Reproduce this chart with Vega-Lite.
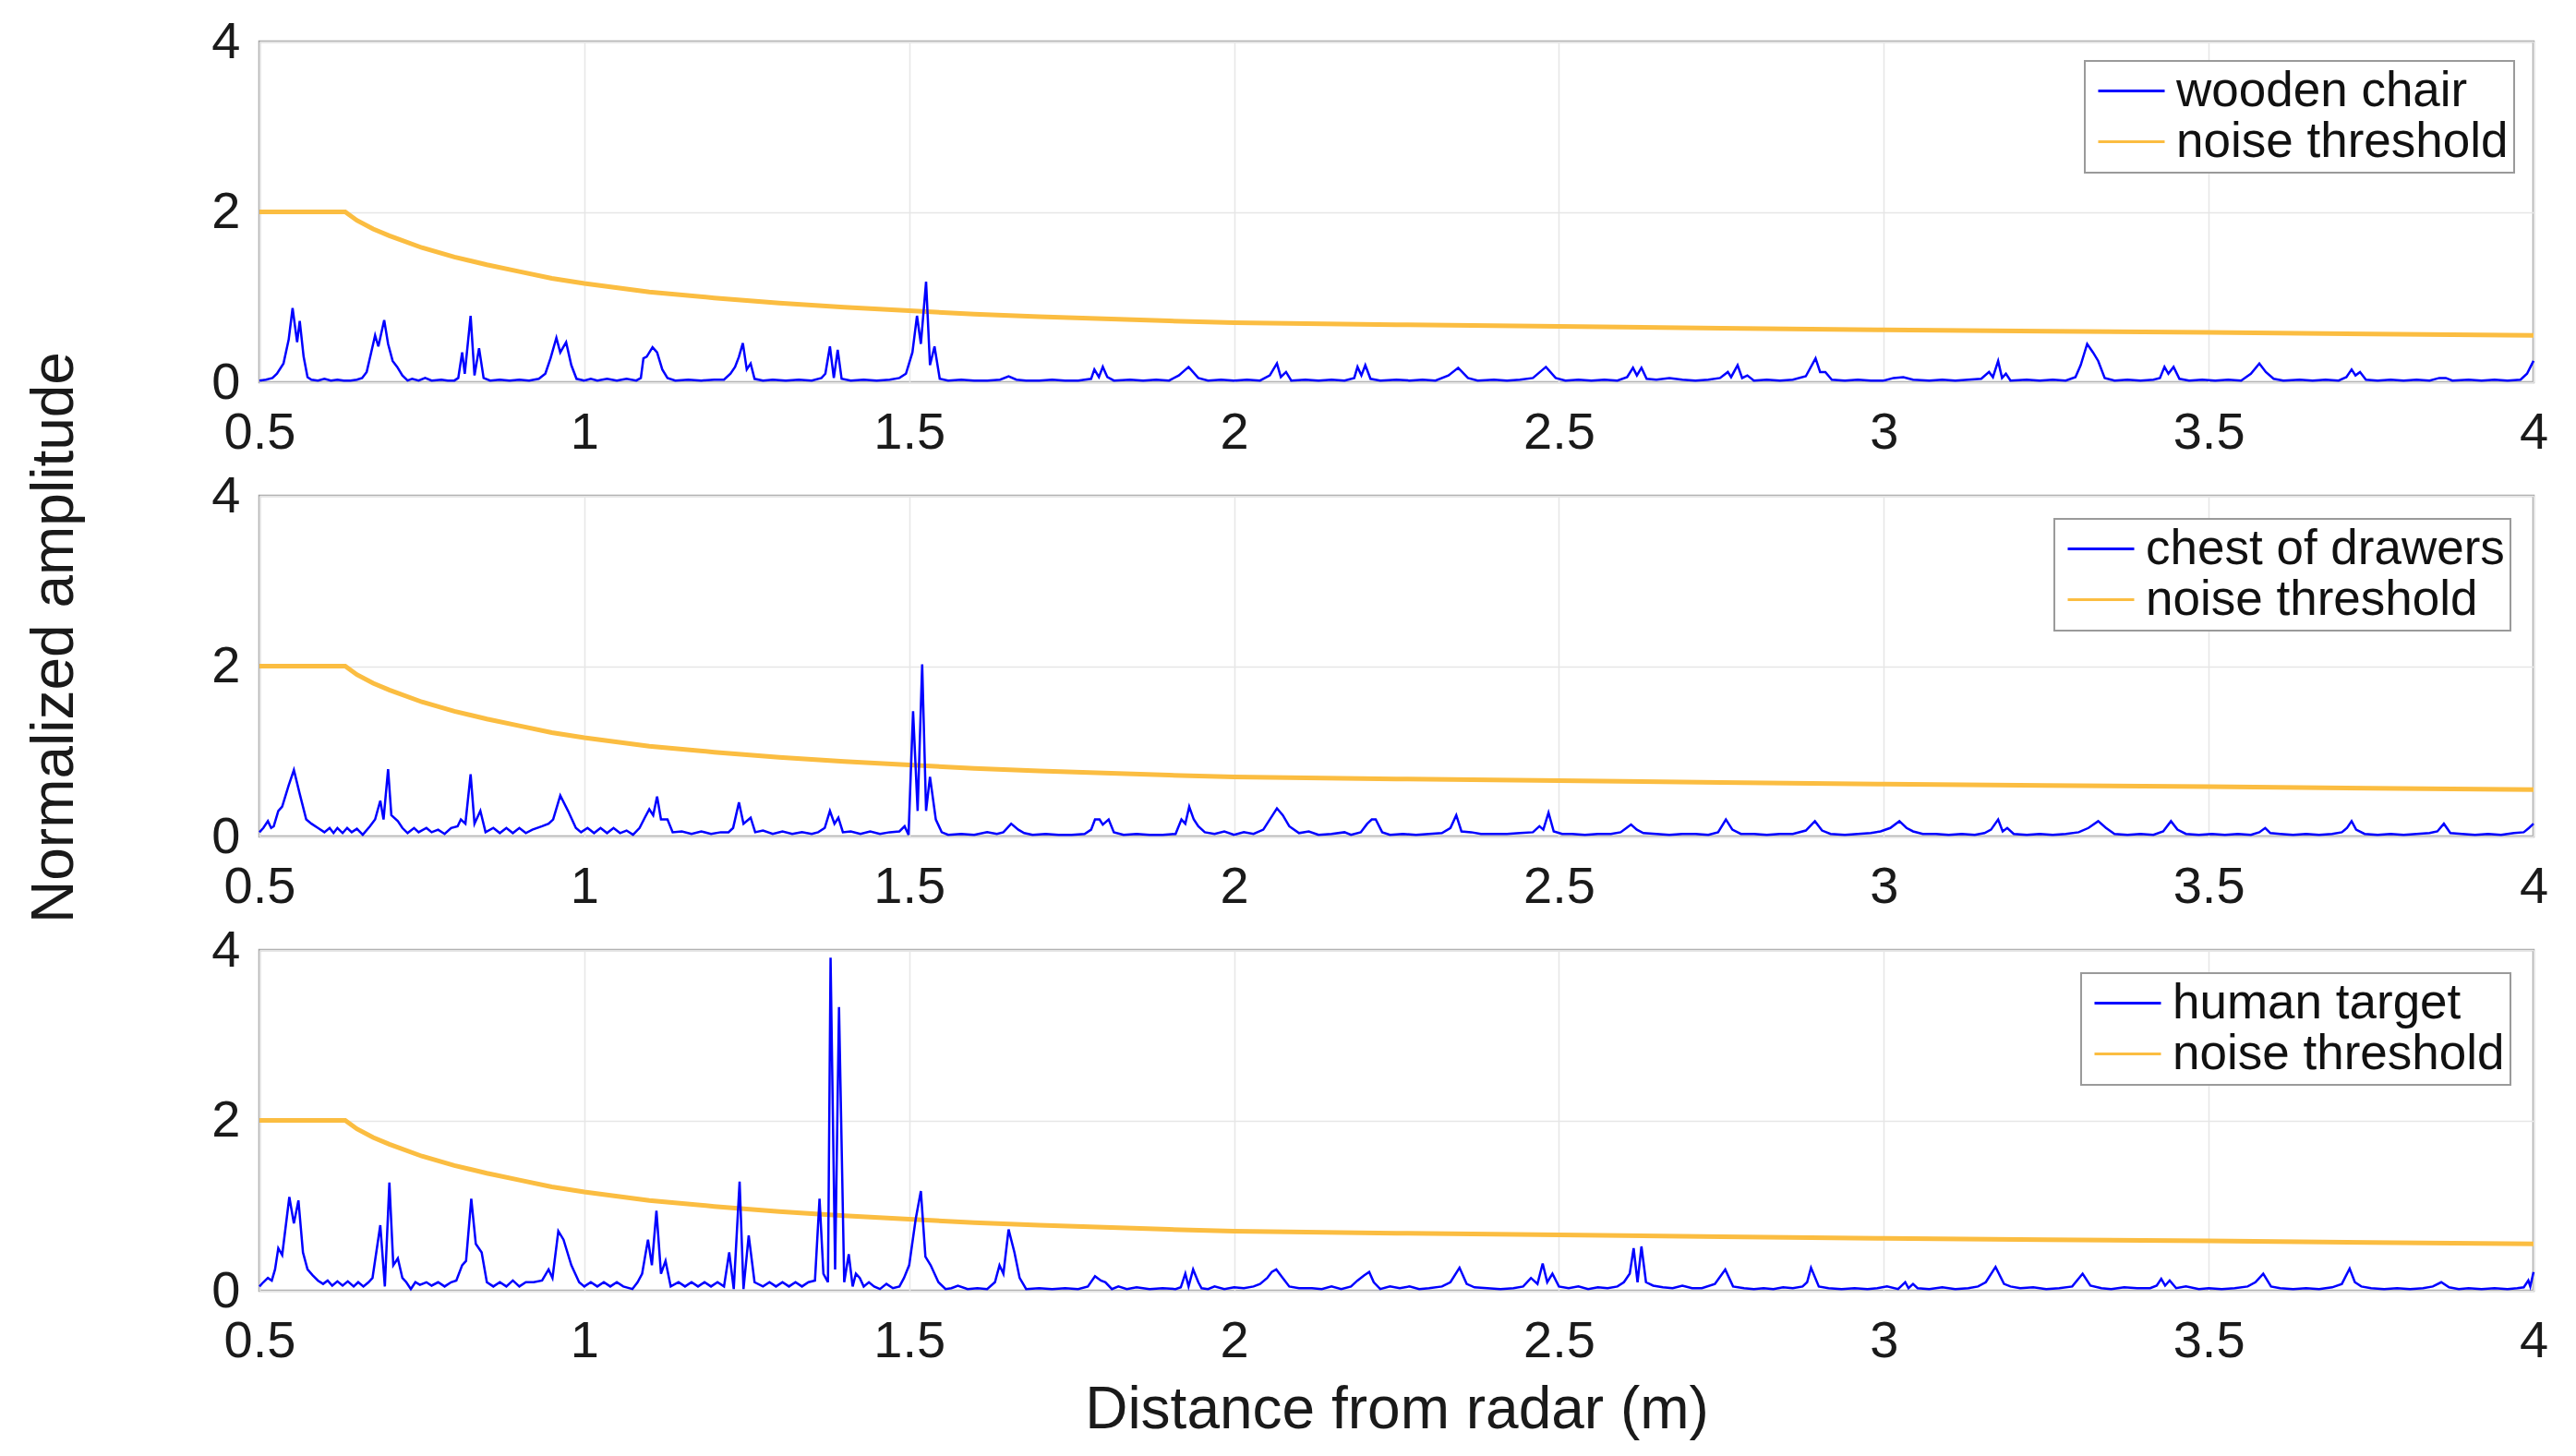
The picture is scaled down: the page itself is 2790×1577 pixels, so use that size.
{
  "$schema": "https://vega.github.io/schema/vega-lite/v6.json",
  "description": "Normalized amplitude vs distance from radar for three targets, with noise threshold",
  "background": "white",
  "padding": {"left": 25, "top": 15, "right": 5, "bottom": 5},
  "datasets": {
    "threshold": [
      {"d":0.5,"a":2},{"d":0.632,"a":2},{"d":0.65,"a":1.9},{"d":0.675,"a":1.8},{"d":0.7,"a":1.72},{"d":0.75,"a":1.58},{"d":0.8,"a":1.47},{"d":0.85,"a":1.38},{"d":0.9,"a":1.3},{"d":0.95,"a":1.22},{"d":1.0,"a":1.16},{"d":1.1,"a":1.06},{"d":1.2,"a":0.99},{"d":1.3,"a":0.93},{"d":1.4,"a":0.88},{"d":1.5,"a":0.84},{"d":1.6,"a":0.8},{"d":1.7,"a":0.77},{"d":1.8,"a":0.745},{"d":1.9,"a":0.72},{"d":2.0,"a":0.7},{"d":2.25,"a":0.675},{"d":2.5,"a":0.655},{"d":2.75,"a":0.635},{"d":3.0,"a":0.615},{"d":3.25,"a":0.6},{"d":3.5,"a":0.585},{"d":3.75,"a":0.567},{"d":4.0,"a":0.55}
    ],
    "chair": [
      {"d":0.5,"a":0.02},{"d":0.51,"a":0.03},{"d":0.52,"a":0.05},{"d":0.527,"a":0.1},{"d":0.537,"a":0.22},{"d":0.545,"a":0.5},{"d":0.551,"a":0.87},{"d":0.558,"a":0.47},{"d":0.562,"a":0.72},{"d":0.568,"a":0.3},{"d":0.574,"a":0.06},{"d":0.58,"a":0.03},{"d":0.59,"a":0.02},{"d":0.6,"a":0.04},{"d":0.61,"a":0.02},{"d":0.62,"a":0.03},{"d":0.63,"a":0.02},{"d":0.64,"a":0.02},{"d":0.65,"a":0.03},{"d":0.658,"a":0.05},{"d":0.665,"a":0.12},{"d":0.672,"a":0.35},{"d":0.678,"a":0.55},{"d":0.683,"a":0.42},{"d":0.692,"a":0.73},{"d":0.698,"a":0.45},{"d":0.705,"a":0.25},{"d":0.712,"a":0.18},{"d":0.72,"a":0.08},{"d":0.728,"a":0.02},{"d":0.735,"a":0.04},{"d":0.745,"a":0.02},{"d":0.755,"a":0.05},{"d":0.765,"a":0.02},{"d":0.78,"a":0.03},{"d":0.79,"a":0.02},{"d":0.8,"a":0.02},{"d":0.806,"a":0.05},{"d":0.812,"a":0.35},{"d":0.816,"a":0.1},{"d":0.825,"a":0.78},{"d":0.831,"a":0.08},{"d":0.838,"a":0.4},{"d":0.845,"a":0.05},{"d":0.855,"a":0.02},{"d":0.87,"a":0.03},{"d":0.885,"a":0.02},{"d":0.9,"a":0.03},{"d":0.915,"a":0.02},{"d":0.93,"a":0.04},{"d":0.94,"a":0.1},{"d":0.948,"a":0.28},{"d":0.957,"a":0.52},{"d":0.963,"a":0.35},{"d":0.972,"a":0.47},{"d":0.98,"a":0.2},{"d":0.988,"a":0.04},{"d":1.0,"a":0.02},{"d":1.01,"a":0.04},{"d":1.02,"a":0.02},{"d":1.035,"a":0.04},{"d":1.05,"a":0.02},{"d":1.065,"a":0.04},{"d":1.08,"a":0.02},{"d":1.087,"a":0.05},{"d":1.091,"a":0.28},{"d":1.096,"a":0.3},{"d":1.105,"a":0.41},{"d":1.112,"a":0.35},{"d":1.12,"a":0.15},{"d":1.128,"a":0.05},{"d":1.14,"a":0.02},{"d":1.16,"a":0.03},{"d":1.18,"a":0.02},{"d":1.2,"a":0.03},{"d":1.215,"a":0.03},{"d":1.225,"a":0.1},{"d":1.232,"a":0.18},{"d":1.238,"a":0.3},{"d":1.244,"a":0.46},{"d":1.25,"a":0.15},{"d":1.256,"a":0.22},{"d":1.262,"a":0.04},{"d":1.275,"a":0.02},{"d":1.29,"a":0.03},{"d":1.31,"a":0.02},{"d":1.33,"a":0.03},{"d":1.35,"a":0.02},{"d":1.365,"a":0.05},{"d":1.371,"a":0.1},{"d":1.378,"a":0.42},{"d":1.384,"a":0.05},{"d":1.39,"a":0.38},{"d":1.396,"a":0.04},{"d":1.41,"a":0.02},{"d":1.43,"a":0.03},{"d":1.45,"a":0.02},{"d":1.47,"a":0.03},{"d":1.485,"a":0.05},{"d":1.495,"a":0.1},{"d":1.505,"a":0.35},{"d":1.512,"a":0.78},{"d":1.518,"a":0.45},{"d":1.526,"a":1.18},{"d":1.532,"a":0.2},{"d":1.539,"a":0.42},{"d":1.547,"a":0.04},{"d":1.56,"a":0.02},{"d":1.58,"a":0.03},{"d":1.6,"a":0.02},{"d":1.62,"a":0.02},{"d":1.64,"a":0.03},{"d":1.653,"a":0.07},{"d":1.665,"a":0.03},{"d":1.68,"a":0.02},{"d":1.7,"a":0.02},{"d":1.72,"a":0.03},{"d":1.74,"a":0.02},{"d":1.76,"a":0.02},{"d":1.78,"a":0.04},{"d":1.785,"a":0.15},{"d":1.792,"a":0.06},{"d":1.798,"a":0.18},{"d":1.805,"a":0.06},{"d":1.815,"a":0.02},{"d":1.84,"a":0.03},{"d":1.86,"a":0.02},{"d":1.88,"a":0.03},{"d":1.9,"a":0.02},{"d":1.915,"a":0.08},{"d":1.93,"a":0.18},{"d":1.945,"a":0.05},{"d":1.96,"a":0.02},{"d":1.98,"a":0.03},{"d":2.0,"a":0.02},{"d":2.02,"a":0.03},{"d":2.04,"a":0.02},{"d":2.055,"a":0.08},{"d":2.066,"a":0.22},{"d":2.072,"a":0.06},{"d":2.08,"a":0.12},{"d":2.088,"a":0.02},{"d":2.11,"a":0.03},{"d":2.13,"a":0.02},{"d":2.15,"a":0.03},{"d":2.17,"a":0.02},{"d":2.185,"a":0.05},{"d":2.19,"a":0.18},{"d":2.196,"a":0.08},{"d":2.202,"a":0.2},{"d":2.21,"a":0.04},{"d":2.225,"a":0.02},{"d":2.25,"a":0.03},{"d":2.27,"a":0.02},{"d":2.29,"a":0.03},{"d":2.31,"a":0.02},{"d":2.33,"a":0.08},{"d":2.345,"a":0.17},{"d":2.36,"a":0.05},{"d":2.375,"a":0.02},{"d":2.4,"a":0.03},{"d":2.42,"a":0.02},{"d":2.44,"a":0.03},{"d":2.46,"a":0.05},{"d":2.48,"a":0.18},{"d":2.495,"a":0.05},{"d":2.51,"a":0.02},{"d":2.53,"a":0.03},{"d":2.55,"a":0.02},{"d":2.57,"a":0.03},{"d":2.59,"a":0.02},{"d":2.605,"a":0.06},{"d":2.614,"a":0.17},{"d":2.62,"a":0.08},{"d":2.627,"a":0.17},{"d":2.635,"a":0.04},{"d":2.65,"a":0.03},{"d":2.67,"a":0.05},{"d":2.69,"a":0.03},{"d":2.71,"a":0.02},{"d":2.73,"a":0.03},{"d":2.748,"a":0.05},{"d":2.76,"a":0.12},{"d":2.765,"a":0.06},{"d":2.775,"a":0.2},{"d":2.782,"a":0.05},{"d":2.79,"a":0.08},{"d":2.8,"a":0.02},{"d":2.82,"a":0.03},{"d":2.84,"a":0.02},{"d":2.86,"a":0.03},{"d":2.88,"a":0.07},{"d":2.895,"a":0.28},{"d":2.902,"a":0.12},{"d":2.91,"a":0.12},{"d":2.92,"a":0.03},{"d":2.94,"a":0.02},{"d":2.96,"a":0.03},{"d":2.98,"a":0.02},{"d":3.0,"a":0.02},{"d":3.015,"a":0.05},{"d":3.03,"a":0.06},{"d":3.045,"a":0.03},{"d":3.07,"a":0.02},{"d":3.09,"a":0.03},{"d":3.11,"a":0.02},{"d":3.13,"a":0.03},{"d":3.15,"a":0.04},{"d":3.162,"a":0.12},{"d":3.168,"a":0.06},{"d":3.176,"a":0.25},{"d":3.182,"a":0.05},{"d":3.188,"a":0.1},{"d":3.195,"a":0.02},{"d":3.22,"a":0.03},{"d":3.24,"a":0.02},{"d":3.26,"a":0.03},{"d":3.28,"a":0.02},{"d":3.295,"a":0.06},{"d":3.303,"a":0.2},{"d":3.313,"a":0.45},{"d":3.322,"a":0.35},{"d":3.33,"a":0.25},{"d":3.34,"a":0.05},{"d":3.355,"a":0.02},{"d":3.375,"a":0.03},{"d":3.395,"a":0.02},{"d":3.415,"a":0.03},{"d":3.425,"a":0.05},{"d":3.432,"a":0.18},{"d":3.438,"a":0.1},{"d":3.446,"a":0.18},{"d":3.455,"a":0.04},{"d":3.47,"a":0.02},{"d":3.49,"a":0.03},{"d":3.51,"a":0.02},{"d":3.53,"a":0.03},{"d":3.55,"a":0.02},{"d":3.565,"a":0.1},{"d":3.578,"a":0.22},{"d":3.588,"a":0.12},{"d":3.6,"a":0.04},{"d":3.615,"a":0.02},{"d":3.64,"a":0.03},{"d":3.66,"a":0.02},{"d":3.68,"a":0.03},{"d":3.7,"a":0.02},{"d":3.712,"a":0.06},{"d":3.72,"a":0.15},{"d":3.726,"a":0.08},{"d":3.733,"a":0.12},{"d":3.742,"a":0.03},{"d":3.76,"a":0.02},{"d":3.78,"a":0.03},{"d":3.8,"a":0.02},{"d":3.82,"a":0.03},{"d":3.84,"a":0.02},{"d":3.855,"a":0.05},{"d":3.865,"a":0.05},{"d":3.875,"a":0.02},{"d":3.9,"a":0.03},{"d":3.92,"a":0.02},{"d":3.94,"a":0.03},{"d":3.96,"a":0.02},{"d":3.98,"a":0.03},{"d":3.99,"a":0.1},{"d":4.0,"a":0.25}
    ],
    "drawers": [
      {"d":0.5,"a":0.05},{"d":0.506,"a":0.1},{"d":0.513,"a":0.18},{"d":0.518,"a":0.1},{"d":0.522,"a":0.12},{"d":0.529,"a":0.3},{"d":0.535,"a":0.35},{"d":0.545,"a":0.6},{"d":0.553,"a":0.78},{"d":0.562,"a":0.5},{"d":0.572,"a":0.2},{"d":0.58,"a":0.15},{"d":0.59,"a":0.1},{"d":0.6,"a":0.05},{"d":0.608,"a":0.1},{"d":0.614,"a":0.04},{"d":0.62,"a":0.1},{"d":0.628,"a":0.04},{"d":0.635,"a":0.1},{"d":0.642,"a":0.05},{"d":0.65,"a":0.09},{"d":0.659,"a":0.02},{"d":0.67,"a":0.12},{"d":0.678,"a":0.2},{"d":0.686,"a":0.42},{"d":0.691,"a":0.2},{"d":0.698,"a":0.79},{"d":0.703,"a":0.25},{"d":0.713,"a":0.18},{"d":0.72,"a":0.1},{"d":0.728,"a":0.04},{"d":0.738,"a":0.1},{"d":0.745,"a":0.05},{"d":0.757,"a":0.1},{"d":0.765,"a":0.05},{"d":0.775,"a":0.08},{"d":0.785,"a":0.03},{"d":0.795,"a":0.1},{"d":0.805,"a":0.12},{"d":0.81,"a":0.2},{"d":0.817,"a":0.15},{"d":0.825,"a":0.73},{"d":0.831,"a":0.15},{"d":0.84,"a":0.3},{"d":0.848,"a":0.05},{"d":0.86,"a":0.1},{"d":0.87,"a":0.04},{"d":0.88,"a":0.1},{"d":0.89,"a":0.04},{"d":0.9,"a":0.1},{"d":0.91,"a":0.04},{"d":0.92,"a":0.08},{"d":0.935,"a":0.12},{"d":0.945,"a":0.15},{"d":0.952,"a":0.2},{"d":0.963,"a":0.48},{"d":0.975,"a":0.3},{"d":0.987,"a":0.1},{"d":0.995,"a":0.05},{"d":1.005,"a":0.1},{"d":1.015,"a":0.04},{"d":1.025,"a":0.1},{"d":1.035,"a":0.04},{"d":1.045,"a":0.1},{"d":1.055,"a":0.04},{"d":1.065,"a":0.07},{"d":1.075,"a":0.02},{"d":1.085,"a":0.1},{"d":1.093,"a":0.22},{"d":1.1,"a":0.32},{"d":1.106,"a":0.25},{"d":1.112,"a":0.47},{"d":1.118,"a":0.2},{"d":1.128,"a":0.2},{"d":1.136,"a":0.05},{"d":1.15,"a":0.06},{"d":1.165,"a":0.03},{"d":1.18,"a":0.06},{"d":1.195,"a":0.03},{"d":1.21,"a":0.05},{"d":1.222,"a":0.05},{"d":1.229,"a":0.1},{"d":1.238,"a":0.4},{"d":1.245,"a":0.15},{"d":1.256,"a":0.22},{"d":1.263,"a":0.05},{"d":1.275,"a":0.07},{"d":1.29,"a":0.03},{"d":1.305,"a":0.06},{"d":1.32,"a":0.03},{"d":1.335,"a":0.05},{"d":1.35,"a":0.03},{"d":1.36,"a":0.05},{"d":1.37,"a":0.1},{"d":1.378,"a":0.3},{"d":1.385,"a":0.15},{"d":1.391,"a":0.22},{"d":1.398,"a":0.05},{"d":1.41,"a":0.06},{"d":1.425,"a":0.03},{"d":1.44,"a":0.06},{"d":1.455,"a":0.03},{"d":1.47,"a":0.05},{"d":1.485,"a":0.06},{"d":1.493,"a":0.12},{"d":1.499,"a":0.02},{"d":1.506,"a":1.47},{"d":1.513,"a":0.3},{"d":1.52,"a":2.02},{"d":1.526,"a":0.3},{"d":1.532,"a":0.7},{"d":1.541,"a":0.2},{"d":1.55,"a":0.05},{"d":1.56,"a":0.02},{"d":1.58,"a":0.03},{"d":1.6,"a":0.02},{"d":1.62,"a":0.05},{"d":1.635,"a":0.03},{"d":1.645,"a":0.05},{"d":1.657,"a":0.15},{"d":1.668,"a":0.08},{"d":1.677,"a":0.04},{"d":1.69,"a":0.02},{"d":1.71,"a":0.03},{"d":1.73,"a":0.02},{"d":1.75,"a":0.02},{"d":1.77,"a":0.03},{"d":1.78,"a":0.08},{"d":1.786,"a":0.2},{"d":1.793,"a":0.2},{"d":1.798,"a":0.14},{"d":1.807,"a":0.2},{"d":1.815,"a":0.05},{"d":1.83,"a":0.02},{"d":1.85,"a":0.03},{"d":1.87,"a":0.02},{"d":1.89,"a":0.02},{"d":1.91,"a":0.03},{"d":1.919,"a":0.2},{"d":1.925,"a":0.15},{"d":1.931,"a":0.35},{"d":1.938,"a":0.2},{"d":1.945,"a":0.12},{"d":1.955,"a":0.05},{"d":1.97,"a":0.03},{"d":1.985,"a":0.06},{"d":2.0,"a":0.02},{"d":2.015,"a":0.05},{"d":2.03,"a":0.03},{"d":2.045,"a":0.08},{"d":2.055,"a":0.2},{"d":2.066,"a":0.33},{"d":2.075,"a":0.25},{"d":2.085,"a":0.12},{"d":2.1,"a":0.04},{"d":2.115,"a":0.06},{"d":2.13,"a":0.02},{"d":2.15,"a":0.03},{"d":2.17,"a":0.05},{"d":2.18,"a":0.02},{"d":2.195,"a":0.05},{"d":2.205,"a":0.15},{"d":2.212,"a":0.2},{"d":2.218,"a":0.2},{"d":2.228,"a":0.05},{"d":2.24,"a":0.02},{"d":2.26,"a":0.03},{"d":2.28,"a":0.02},{"d":2.3,"a":0.03},{"d":2.32,"a":0.04},{"d":2.333,"a":0.1},{"d":2.342,"a":0.25},{"d":2.35,"a":0.06},{"d":2.365,"a":0.05},{"d":2.38,"a":0.03},{"d":2.4,"a":0.03},{"d":2.42,"a":0.03},{"d":2.44,"a":0.04},{"d":2.46,"a":0.05},{"d":2.47,"a":0.12},{"d":2.476,"a":0.08},{"d":2.484,"a":0.28},{"d":2.492,"a":0.06},{"d":2.505,"a":0.03},{"d":2.52,"a":0.03},{"d":2.54,"a":0.02},{"d":2.56,"a":0.03},{"d":2.58,"a":0.03},{"d":2.595,"a":0.05},{"d":2.604,"a":0.1},{"d":2.611,"a":0.14},{"d":2.62,"a":0.08},{"d":2.63,"a":0.04},{"d":2.65,"a":0.03},{"d":2.67,"a":0.02},{"d":2.69,"a":0.03},{"d":2.71,"a":0.03},{"d":2.73,"a":0.02},{"d":2.745,"a":0.05},{"d":2.757,"a":0.2},{"d":2.767,"a":0.08},{"d":2.78,"a":0.03},{"d":2.8,"a":0.03},{"d":2.82,"a":0.02},{"d":2.84,"a":0.03},{"d":2.86,"a":0.03},{"d":2.88,"a":0.07},{"d":2.894,"a":0.18},{"d":2.905,"a":0.07},{"d":2.918,"a":0.03},{"d":2.94,"a":0.02},{"d":2.96,"a":0.03},{"d":2.98,"a":0.04},{"d":2.995,"a":0.06},{"d":3.01,"a":0.1},{"d":3.024,"a":0.18},{"d":3.035,"a":0.1},{"d":3.045,"a":0.06},{"d":3.06,"a":0.03},{"d":3.08,"a":0.03},{"d":3.1,"a":0.02},{"d":3.12,"a":0.03},{"d":3.14,"a":0.02},{"d":3.155,"a":0.04},{"d":3.165,"a":0.08},{"d":3.176,"a":0.2},{"d":3.183,"a":0.06},{"d":3.19,"a":0.1},{"d":3.2,"a":0.03},{"d":3.22,"a":0.02},{"d":3.24,"a":0.03},{"d":3.26,"a":0.02},{"d":3.28,"a":0.03},{"d":3.3,"a":0.05},{"d":3.315,"a":0.1},{"d":3.33,"a":0.18},{"d":3.342,"a":0.1},{"d":3.355,"a":0.03},{"d":3.375,"a":0.02},{"d":3.395,"a":0.03},{"d":3.415,"a":0.02},{"d":3.43,"a":0.06},{"d":3.442,"a":0.18},{"d":3.452,"a":0.08},{"d":3.465,"a":0.03},{"d":3.485,"a":0.02},{"d":3.505,"a":0.03},{"d":3.525,"a":0.02},{"d":3.545,"a":0.03},{"d":3.565,"a":0.02},{"d":3.578,"a":0.05},{"d":3.587,"a":0.1},{"d":3.595,"a":0.04},{"d":3.61,"a":0.03},{"d":3.63,"a":0.02},{"d":3.65,"a":0.03},{"d":3.67,"a":0.02},{"d":3.69,"a":0.03},{"d":3.705,"a":0.05},{"d":3.713,"a":0.1},{"d":3.72,"a":0.18},{"d":3.727,"a":0.08},{"d":3.74,"a":0.03},{"d":3.76,"a":0.02},{"d":3.78,"a":0.03},{"d":3.8,"a":0.02},{"d":3.82,"a":0.03},{"d":3.84,"a":0.04},{"d":3.852,"a":0.06},{"d":3.862,"a":0.15},{"d":3.872,"a":0.04},{"d":3.89,"a":0.03},{"d":3.91,"a":0.02},{"d":3.93,"a":0.03},{"d":3.95,"a":0.02},{"d":3.97,"a":0.04},{"d":3.985,"a":0.05},{"d":3.993,"a":0.1},{"d":4.0,"a":0.15}
    ],
    "human": [
      {"d":0.5,"a":0.05},{"d":0.506,"a":0.1},{"d":0.513,"a":0.15},{"d":0.519,"a":0.12},{"d":0.524,"a":0.25},{"d":0.529,"a":0.5},{"d":0.535,"a":0.42},{"d":0.546,"a":1.1},{"d":0.553,"a":0.79},{"d":0.56,"a":1.06},{"d":0.567,"a":0.45},{"d":0.574,"a":0.25},{"d":0.582,"a":0.18},{"d":0.59,"a":0.12},{"d":0.598,"a":0.08},{"d":0.605,"a":0.12},{"d":0.612,"a":0.06},{"d":0.62,"a":0.11},{"d":0.628,"a":0.06},{"d":0.636,"a":0.11},{"d":0.645,"a":0.05},{"d":0.652,"a":0.1},{"d":0.66,"a":0.05},{"d":0.668,"a":0.1},{"d":0.674,"a":0.15},{"d":0.686,"a":0.77},{"d":0.693,"a":0.05},{"d":0.7,"a":1.27},{"d":0.706,"a":0.3},{"d":0.713,"a":0.38},{"d":0.72,"a":0.15},{"d":0.726,"a":0.1},{"d":0.733,"a":0.02},{"d":0.74,"a":0.1},{"d":0.747,"a":0.07},{"d":0.757,"a":0.1},{"d":0.765,"a":0.06},{"d":0.775,"a":0.1},{"d":0.785,"a":0.05},{"d":0.795,"a":0.1},{"d":0.803,"a":0.12},{"d":0.812,"a":0.3},{"d":0.818,"a":0.35},{"d":0.826,"a":1.08},{"d":0.833,"a":0.55},{"d":0.842,"a":0.45},{"d":0.85,"a":0.1},{"d":0.86,"a":0.05},{"d":0.87,"a":0.1},{"d":0.88,"a":0.05},{"d":0.89,"a":0.12},{"d":0.9,"a":0.05},{"d":0.91,"a":0.1},{"d":0.922,"a":0.1},{"d":0.935,"a":0.12},{"d":0.945,"a":0.25},{"d":0.951,"a":0.15},{"d":0.96,"a":0.7},{"d":0.968,"a":0.6},{"d":0.98,"a":0.3},{"d":0.992,"a":0.1},{"d":1.0,"a":0.05},{"d":1.01,"a":0.1},{"d":1.02,"a":0.05},{"d":1.03,"a":0.1},{"d":1.04,"a":0.05},{"d":1.05,"a":0.1},{"d":1.06,"a":0.05},{"d":1.074,"a":0.02},{"d":1.082,"a":0.1},{"d":1.089,"a":0.2},{"d":1.098,"a":0.6},{"d":1.104,"a":0.3},{"d":1.111,"a":0.94},{"d":1.118,"a":0.2},{"d":1.125,"a":0.35},{"d":1.133,"a":0.05},{"d":1.145,"a":0.1},{"d":1.155,"a":0.05},{"d":1.165,"a":0.1},{"d":1.175,"a":0.05},{"d":1.185,"a":0.1},{"d":1.195,"a":0.05},{"d":1.205,"a":0.1},{"d":1.215,"a":0.05},{"d":1.223,"a":0.45},{"d":1.23,"a":0.02},{"d":1.239,"a":1.28},{"d":1.245,"a":0.02},{"d":1.253,"a":0.65},{"d":1.262,"a":0.1},{"d":1.275,"a":0.05},{"d":1.285,"a":0.1},{"d":1.295,"a":0.05},{"d":1.305,"a":0.1},{"d":1.315,"a":0.05},{"d":1.325,"a":0.1},{"d":1.335,"a":0.05},{"d":1.345,"a":0.1},{"d":1.355,"a":0.12},{"d":1.362,"a":1.08},{"d":1.368,"a":0.2},{"d":1.375,"a":0.1},{"d":1.379,"a":3.91},{"d":1.386,"a":0.25},{"d":1.392,"a":3.33},{"d":1.4,"a":0.1},{"d":1.407,"a":0.43},{"d":1.413,"a":0.05},{"d":1.418,"a":0.2},{"d":1.424,"a":0.15},{"d":1.43,"a":0.05},{"d":1.438,"a":0.1},{"d":1.446,"a":0.05},{"d":1.455,"a":0.02},{"d":1.465,"a":0.08},{"d":1.475,"a":0.03},{"d":1.485,"a":0.05},{"d":1.492,"a":0.15},{"d":1.5,"a":0.3},{"d":1.51,"a":0.84},{"d":1.518,"a":1.17},{"d":1.525,"a":0.4},{"d":1.533,"a":0.3},{"d":1.545,"a":0.1},{"d":1.556,"a":0.02},{"d":1.565,"a":0.03},{"d":1.575,"a":0.06},{"d":1.59,"a":0.02},{"d":1.605,"a":0.03},{"d":1.62,"a":0.02},{"d":1.632,"a":0.1},{"d":1.639,"a":0.3},{"d":1.645,"a":0.2},{"d":1.653,"a":0.72},{"d":1.662,"a":0.45},{"d":1.67,"a":0.15},{"d":1.68,"a":0.02},{"d":1.7,"a":0.03},{"d":1.72,"a":0.02},{"d":1.74,"a":0.03},{"d":1.76,"a":0.02},{"d":1.775,"a":0.05},{"d":1.786,"a":0.17},{"d":1.795,"a":0.12},{"d":1.802,"a":0.1},{"d":1.812,"a":0.02},{"d":1.822,"a":0.05},{"d":1.835,"a":0.02},{"d":1.85,"a":0.04},{"d":1.87,"a":0.02},{"d":1.89,"a":0.03},{"d":1.91,"a":0.02},{"d":1.918,"a":0.04},{"d":1.925,"a":0.2},{"d":1.93,"a":0.05},{"d":1.937,"a":0.25},{"d":1.945,"a":0.1},{"d":1.95,"a":0.03},{"d":1.96,"a":0.02},{"d":1.97,"a":0.05},{"d":1.985,"a":0.02},{"d":2.0,"a":0.04},{"d":2.015,"a":0.03},{"d":2.03,"a":0.05},{"d":2.04,"a":0.08},{"d":2.051,"a":0.15},{"d":2.058,"a":0.22},{"d":2.065,"a":0.25},{"d":2.075,"a":0.15},{"d":2.085,"a":0.05},{"d":2.1,"a":0.03},{"d":2.12,"a":0.03},{"d":2.135,"a":0.02},{"d":2.15,"a":0.05},{"d":2.165,"a":0.02},{"d":2.18,"a":0.05},{"d":2.19,"a":0.12},{"d":2.2,"a":0.18},{"d":2.208,"a":0.22},{"d":2.215,"a":0.1},{"d":2.225,"a":0.02},{"d":2.24,"a":0.05},{"d":2.255,"a":0.03},{"d":2.27,"a":0.05},{"d":2.285,"a":0.02},{"d":2.3,"a":0.03},{"d":2.32,"a":0.05},{"d":2.333,"a":0.1},{"d":2.347,"a":0.27},{"d":2.358,"a":0.08},{"d":2.37,"a":0.04},{"d":2.39,"a":0.03},{"d":2.41,"a":0.02},{"d":2.43,"a":0.03},{"d":2.445,"a":0.05},{"d":2.457,"a":0.15},{"d":2.467,"a":0.08},{"d":2.475,"a":0.32},{"d":2.482,"a":0.1},{"d":2.49,"a":0.2},{"d":2.5,"a":0.05},{"d":2.515,"a":0.03},{"d":2.53,"a":0.05},{"d":2.545,"a":0.02},{"d":2.56,"a":0.04},{"d":2.575,"a":0.03},{"d":2.59,"a":0.05},{"d":2.6,"a":0.1},{"d":2.609,"a":0.2},{"d":2.615,"a":0.5},{"d":2.621,"a":0.1},{"d":2.627,"a":0.52},{"d":2.634,"a":0.1},{"d":2.645,"a":0.06},{"d":2.66,"a":0.04},{"d":2.675,"a":0.03},{"d":2.69,"a":0.06},{"d":2.705,"a":0.03},{"d":2.72,"a":0.03},{"d":2.74,"a":0.08},{"d":2.756,"a":0.25},{"d":2.768,"a":0.05},{"d":2.785,"a":0.03},{"d":2.8,"a":0.02},{"d":2.815,"a":0.03},{"d":2.83,"a":0.02},{"d":2.845,"a":0.04},{"d":2.86,"a":0.03},{"d":2.875,"a":0.05},{"d":2.882,"a":0.1},{"d":2.888,"a":0.27},{"d":2.9,"a":0.05},{"d":2.915,"a":0.03},{"d":2.935,"a":0.02},{"d":2.955,"a":0.03},{"d":2.975,"a":0.02},{"d":2.99,"a":0.03},{"d":3.005,"a":0.05},{"d":3.022,"a":0.02},{"d":3.033,"a":0.1},{"d":3.038,"a":0.03},{"d":3.045,"a":0.08},{"d":3.052,"a":0.03},{"d":3.07,"a":0.02},{"d":3.09,"a":0.04},{"d":3.11,"a":0.02},{"d":3.13,"a":0.03},{"d":3.145,"a":0.05},{"d":3.157,"a":0.1},{"d":3.172,"a":0.28},{"d":3.185,"a":0.08},{"d":3.195,"a":0.05},{"d":3.21,"a":0.03},{"d":3.23,"a":0.04},{"d":3.25,"a":0.02},{"d":3.27,"a":0.03},{"d":3.29,"a":0.05},{"d":3.306,"a":0.2},{"d":3.318,"a":0.06},{"d":3.335,"a":0.03},{"d":3.35,"a":0.02},{"d":3.37,"a":0.04},{"d":3.39,"a":0.03},{"d":3.41,"a":0.03},{"d":3.42,"a":0.06},{"d":3.427,"a":0.14},{"d":3.433,"a":0.06},{"d":3.44,"a":0.12},{"d":3.45,"a":0.03},{"d":3.465,"a":0.05},{"d":3.485,"a":0.02},{"d":3.5,"a":0.03},{"d":3.52,"a":0.02},{"d":3.54,"a":0.03},{"d":3.56,"a":0.05},{"d":3.572,"a":0.1},{"d":3.584,"a":0.2},{"d":3.596,"a":0.05},{"d":3.61,"a":0.03},{"d":3.63,"a":0.02},{"d":3.65,"a":0.03},{"d":3.67,"a":0.02},{"d":3.69,"a":0.04},{"d":3.705,"a":0.08},{"d":3.717,"a":0.26},{"d":3.725,"a":0.1},{"d":3.735,"a":0.05},{"d":3.75,"a":0.03},{"d":3.77,"a":0.02},{"d":3.79,"a":0.03},{"d":3.81,"a":0.02},{"d":3.83,"a":0.03},{"d":3.845,"a":0.05},{"d":3.858,"a":0.1},{"d":3.87,"a":0.04},{"d":3.885,"a":0.02},{"d":3.9,"a":0.03},{"d":3.92,"a":0.02},{"d":3.94,"a":0.03},{"d":3.96,"a":0.02},{"d":3.975,"a":0.03},{"d":3.985,"a":0.04},{"d":3.992,"a":0.12},{"d":3.995,"a":0.05},{"d":4.0,"a":0.22}
    ]
  },
  "spacing": 123,
  "bounds": "flush",
  "resolve": {"scale": {"color": "independent"}, "legend": {"color": "independent"}},
  "vconcat": [
    {
      "width": 2463,
      "height": 369,
      "encoding": {
        "x": {"field": "d", "type": "quantitative", "scale": {"domain": [0.5, 4], "nice": false, "zero": false}, "axis": {"title": null, "values": [0.5, 1, 1.5, 2, 2.5, 3, 3.5, 4]}},
        "y": {"field": "a", "type": "quantitative", "scale": {"domain": [0, 4], "nice": false}, "axis": {"title": null, "values": [0, 2, 4]}}
      },
      "layer": [
        {
          "data": {"name": "threshold"},
          "mark": {"type": "line", "strokeWidth": 5},
          "encoding": {"color": {"datum": "noise threshold", "type": "nominal", "scale": {"domain": ["wooden chair", "noise threshold"], "range": ["#0000ff", "#fbbd41"]}, "legend": {"offset": 21}}}
        },
        {
          "data": {"name": "chair"},
          "mark": {"type": "line", "strokeWidth": 2.5},
          "encoding": {"color": {"datum": "wooden chair", "type": "nominal"}}
        }
      ]
    },
    {
      "width": 2463,
      "height": 369,
      "encoding": {
        "x": {"field": "d", "type": "quantitative", "scale": {"domain": [0.5, 4], "nice": false, "zero": false}, "axis": {"title": null, "values": [0.5, 1, 1.5, 2, 2.5, 3, 3.5, 4]}},
        "y": {"field": "a", "type": "quantitative", "scale": {"domain": [0, 4], "nice": false}, "axis": {"values": [0, 2, 4], "title": "Normalized amplitude", "titleX": -222, "titleY": 153, "titleBaseline": "middle", "titleAngle": -90}}
      },
      "layer": [
        {
          "data": {"name": "threshold"},
          "mark": {"type": "line", "strokeWidth": 5},
          "encoding": {"color": {"datum": "noise threshold", "type": "nominal", "scale": {"domain": ["chest of drawers", "noise threshold"], "range": ["#0000ff", "#fbbd41"]}, "legend": {"offset": 25}}}
        },
        {
          "data": {"name": "drawers"},
          "mark": {"type": "line", "strokeWidth": 2.5},
          "encoding": {"color": {"datum": "chest of drawers", "type": "nominal"}}
        }
      ]
    },
    {
      "width": 2463,
      "height": 369,
      "encoding": {
        "x": {"field": "d", "type": "quantitative", "scale": {"domain": [0.5, 4], "nice": false, "zero": false}, "axis": {"title": "Distance from radar (m)", "values": [0.5, 1, 1.5, 2, 2.5, 3, 3.5, 4]}},
        "y": {"field": "a", "type": "quantitative", "scale": {"domain": [0, 4], "nice": false}, "axis": {"title": null, "values": [0, 2, 4]}}
      },
      "layer": [
        {
          "data": {"name": "threshold"},
          "mark": {"type": "line", "strokeWidth": 5},
          "encoding": {"color": {"datum": "noise threshold", "type": "nominal", "scale": {"domain": ["human target", "noise threshold"], "range": ["#0000ff", "#fbbd41"]}, "legend": {"offset": 25}}}
        },
        {
          "data": {"name": "human"},
          "mark": {"type": "line", "strokeWidth": 2.5},
          "encoding": {"color": {"datum": "human target", "type": "nominal"}}
        }
      ]
    }
  ],
  "config": {
    "font": "Liberation Sans",
    "view": {"stroke": "#a0a0a0", "strokeWidth": 2.5},
    "axis": {
      "domain": false,
      "ticks": false,
      "grid": true,
      "gridColor": "#e6e6e6",
      "gridWidth": 1.5,
      "labelFontSize": 56,
      "labelColor": "#1a1a1a",
      "labelFlush": false,
      "labelOverlap": false,
      "labelBound": false,
      "format": "~g",
      "titleFontSize": 64,
      "titleFontWeight": "normal",
      "titleColor": "#1a1a1a"
    },
    "axisX": {"labelPadding": 27, "titlePadding": 15},
    "axisY": {"labelPadding": 21},
    "legend": {
      "orient": "top-right",
      "title": null,
      "strokeColor": "#9a9a9a",
      "strokeWidth": 2,
      "fillColor": "white",
      "padding": 6,
      "labelFontSize": 53,
      "labelColor": "#111111",
      "labelOffset": 22,
      "labelLimit": 0,
      "symbolType": "M-2,0H2",
      "symbolSize": 1296,
      "symbolOffset": 18,
      "symbolStrokeWidth": 3,
      "rowPadding": 1,
      "cornerRadius": 0
    }
  }
}
